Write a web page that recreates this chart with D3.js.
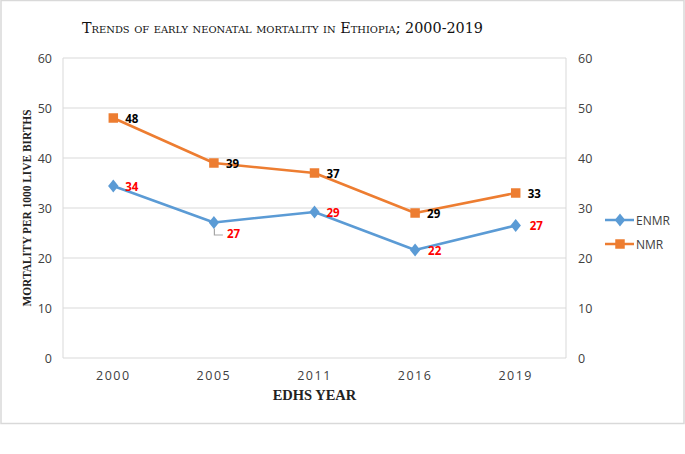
<!DOCTYPE html>
<html><head><meta charset="utf-8">
<script src="https://cdn.jsdelivr.net/npm/d3@7"></script>
<style>body{margin:0;background:#fff}svg{display:block}</style>
</head><body>
<svg id="c" width="685" height="454"></svg>
<script>
const years = ["2000","2005","2011","2016","2019"];
const enmr = [34.4, 27.1, 29.2, 21.6, 26.5];
const nmr = [48, 39, 37, 29, 33];
const enmrLabels = ["34","27","29","22","27"];
const nmrLabels = ["48","39","37","29","33"];
const yTicks = [0,10,20,30,40,50,60];

(function(){
const svg = d3.select("#c");
svg.append("rect").attr("x",1).attr("y",0.5).attr("width",683).attr("height",423)
  .attr("fill","#fff").attr("stroke","#d9d9d9").attr("stroke-width",1.5);

const pL = 63, pR = 566, pT = 58, pB = 358;
const x = d3.scaleBand().domain(years).range([pL,pR]);
const y = d3.scaleLinear().domain([0,60]).range([pB,pT]);
const cx = d => x(d) + x.bandwidth()/2;

svg.append("g").selectAll("line").data(yTicks).join("line")
  .attr("x1",pL).attr("x2",pR).attr("y1",d=>y(d)).attr("y2",d=>y(d))
  .attr("stroke","#d9d9d9").attr("stroke-width",1);
svg.append("line").attr("x1",pL).attr("x2",pL).attr("y1",pT).attr("y2",pB).attr("stroke","#d9d9d9");
svg.append("line").attr("x1",pR).attr("x2",pR).attr("y1",pT).attr("y2",pB).attr("stroke","#d9d9d9");

const gL = svg.append("g").attr("transform",`translate(${pL},0)`).call(d3.axisLeft(y).tickValues(yTicks).tickSize(0).tickPadding(11));
const gR = svg.append("g").attr("transform",`translate(${pR},0)`).call(d3.axisRight(y).tickValues(yTicks).tickSize(0).tickPadding(12));
const gB = svg.append("g").attr("transform",`translate(0,${pB})`).call(d3.axisBottom(x).tickSize(0).tickPadding(13));
[gL,gR,gB].forEach(g=>{
  g.select(".domain").remove();
  g.selectAll("text").attr("font-family","'Open Sans', sans-serif").attr("font-size",12.5).attr("fill","#404040");
});
gB.selectAll("text").attr("letter-spacing","1.5px");

const line = d3.line().x(d=>cx(d[0])).y(d=>y(d[1]));
const cBlue = "#5b9bd5", cOrange = "#ed7d31";
svg.append("path").datum(years.map((d,i)=>[d,enmr[i]])).attr("d",line)
  .attr("fill","none").attr("stroke",cBlue).attr("stroke-width",2.5).attr("stroke-linejoin","round");
svg.append("path").datum(years.map((d,i)=>[d,nmr[i]])).attr("d",line)
  .attr("fill","none").attr("stroke",cOrange).attr("stroke-width",2.5).attr("stroke-linejoin","round");

const diamond = d3.symbol().type(d3.symbolDiamond).size(48);
const square = d3.symbol().type(d3.symbolSquare).size(90);
svg.append("g").selectAll("path").data(years).join("path")
  .attr("d",diamond).attr("transform",(d,i)=>`translate(${cx(d)},${y(enmr[i])}) scale(1.4,1)`)
  .attr("fill",cBlue);
svg.append("g").selectAll("path").data(years).join("path")
  .attr("d",square).attr("transform",(d,i)=>`translate(${cx(d)},${y(nmr[i])})`)
  .attr("fill",cOrange);

const lblFont = "'Open Sans', 'Liberation Sans', sans-serif";
svg.append("g").selectAll("text").data(years).join("text")
  .attr("x",d=>cx(d)+12).attr("y",(d,i)=>y(nmr[i])+4.5)
  .attr("font-family",lblFont).attr("font-size",11.5).attr("font-weight","bold").attr("fill","#000")
  .text((d,i)=>nmrLabels[i]);
const enOff = [[12,4.5],[13,15.5],[12,4.5],[13,4.5],[14,4.5]];
svg.append("g").selectAll("text").data(years).join("text")
  .attr("x",(d,i)=>cx(d)+enOff[i][0]).attr("y",(d,i)=>y(enmr[i])+enOff[i][1])
  .attr("font-family",lblFont).attr("font-size",11.5).attr("font-weight","bold").attr("fill","#ff0000")
  .text((d,i)=>enmrLabels[i]);
{
  const px = cx("2005"), py = y(enmr[1]);
  svg.append("path").attr("d",`M${px+0.5},${py+6}L${px+0.5},${py+12.5}L${px+9},${py+12.5}`)
    .attr("fill","none").attr("stroke","#a6a6a6").attr("stroke-width",1.2);
}

const lg = svg.append("g");
[[220,cBlue,diamond,"ENMR",1.4],[244,cOrange,square,"NMR",1]].forEach(([ly,c,sym,t,sx])=>{
  lg.append("line").attr("x1",605).attr("x2",634).attr("y1",ly).attr("y2",ly).attr("stroke",c).attr("stroke-width",2.5);
  lg.append("path").attr("d",sym).attr("transform",`translate(620,${ly}) scale(${sx},1)`).attr("fill",c);
  lg.append("text").attr("x",636).attr("y",ly+4.5).attr("font-family","'Open Sans', sans-serif")
    .attr("font-size",12).attr("fill","#404040").text(t);
});

svg.append("text").attr("x",82).attr("y",33)
  .attr("font-family","'DejaVu Serif', serif").attr("font-size",14.5).attr("font-variant","small-caps")
  .attr("fill","#111").attr("textLength",401).attr("lengthAdjust","spacingAndGlyphs")
  .text("Trends of early neonatal mortality in Ethiopia; 2000-2019");

svg.append("text").attr("transform",`translate(31,${(pT+pB)/2}) rotate(-90)`)
  .attr("text-anchor","middle").attr("font-family","'Liberation Serif', 'Times New Roman', serif")
  .attr("font-size",12).attr("fill","#222").attr("font-weight","bold")
  .attr("textLength",197).attr("lengthAdjust","spacingAndGlyphs")
  .text("MORTALITY PER 1000 LIVE BIRTHS");
svg.append("text").attr("x",(pL+pR)/2).attr("y",400).attr("text-anchor","middle")
  .attr("font-family","'Liberation Serif', 'Times New Roman', serif").attr("font-size",14.5)
  .attr("font-weight","bold").attr("fill","#222").text("EDHS YEAR");
})();
</script>
</body></html>
